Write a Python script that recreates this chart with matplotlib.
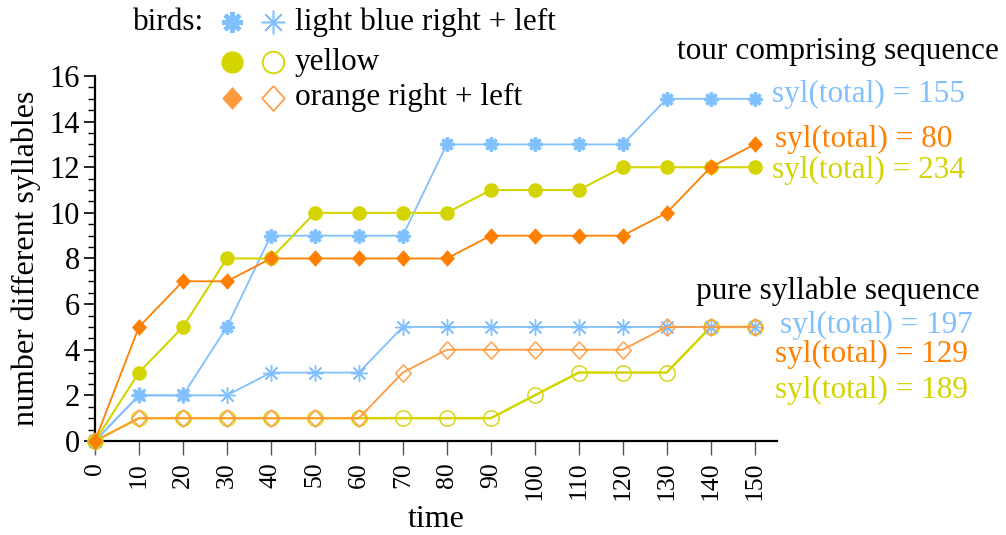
import matplotlib
matplotlib.use("Agg")
import matplotlib.pyplot as plt
from matplotlib.ticker import MultipleLocator

plt.rcParams['font.family'] = ['Liberation Serif', 'DejaVu Serif']

time = [0, 10, 20, 30, 40, 50, 60, 70, 80, 90, 100, 110, 120, 130, 140, 150]

# tour comprising sequence
blue_tour = [0, 2, 2, 5, 9, 9, 9, 9, 13, 13, 13, 13, 13, 15, 15, 15]
yellow_tour = [0, 3, 5, 8, 8, 10, 10, 10, 10, 11, 11, 11, 12, 12, 12, 12]
orange_tour = [0, 5, 7, 7, 8, 8, 8, 8, 8, 9, 9, 9, 9, 10, 12, 13]

# pure syllable sequence
blue_pure = [0, 2, 2, 2, 3, 3, 3, 5, 5, 5, 5, 5, 5, 5, 5, 5]
orange_pure = [0, 1, 1, 1, 1, 1, 1, 3, 4, 4, 4, 4, 4, 5, 5, 5]
yellow_pure = [0, 1, 1, 1, 1, 1, 1, 1, 1, 1, 2, 3, 3, 3, 5, 5]

tour_labels = ["syl(total) = 155", "syl(total) = 80", "syl(total) = 234"]
pure_labels = ["syl(total) = 197", "syl(total) = 129", "syl(total) = 189"]

BLUE = "#80c0ff"
YELLOW = "#d4d400"
ORANGE = "#ff7f00"
ORANGE_L = "#ff9a40"

asterisk = (8, 2, 0)
diamond = [(0, 1), (0.9, 0), (0, -1), (-0.9, 0), (0, 1)]

fig = plt.figure(figsize=(10.06, 5.35), dpi=100)
ax = fig.add_axes([0.0944, 0.1757, 0.6776, 0.6823])
FS = 22.5

# pure ones first
ax.plot(time, blue_pure, color=BLUE, lw=1.3, marker=asterisk, ms=12, mew=1.0, clip_on=False, zorder=3)
ax.plot(time, orange_pure, color=ORANGE_L, lw=1.3, marker=diamond, ms=12.5, mfc="none", mec=ORANGE_L,
        mew=1.0, clip_on=False, zorder=3)
ax.plot(time, yellow_pure, color=YELLOW, lw=1.8, marker="o", ms=11, mfc="none", mec=YELLOW,
        mew=1.0, clip_on=False, zorder=2)
# tour ones
ax.plot(time, blue_tour, color=BLUE, lw=1.3, marker=asterisk, ms=10, mew=2.4, clip_on=False, zorder=4)
ax.plot(time, yellow_tour, color=YELLOW, lw=1.5, marker="o", ms=10.5, mew=0, clip_on=False, zorder=4)
ax.plot(time, orange_tour, color=ORANGE, lw=1.3, marker=diamond, ms=12, mew=0, clip_on=False, zorder=4)

ax.set_xlim(0, 155)
ax.set_ylim(0, 16)
for s in ["top", "right"]:
    ax.spines[s].set_visible(False)
ax.spines["left"].set_linewidth(1.6)
ax.spines["bottom"].set_linewidth(1.6)
ax.set_xticks(time)
ax.set_xticklabels([str(t) for t in time], rotation=90, fontsize=18.5)
ax.yaxis.set_major_locator(MultipleLocator(2))
ax.yaxis.set_minor_locator(MultipleLocator(0.5))
ax.tick_params(axis="y", which="major", length=8, width=1.2, labelsize=22, pad=3)
ax.tick_params(axis="y", which="minor", length=5, width=1.0)
ax.tick_params(axis="x", length=10, width=1.0, color="#555555", pad=5)
ax.set_xlabel("time", fontsize=23, labelpad=3)
ax.set_ylabel("number different syllables", fontsize=23, labelpad=6)

# legend drawn by hand
fig.text(0.132, 0.958, "birds:", fontsize=FS, va="center")
legend_rows = [
    (0.958, dict(color=BLUE, marker=asterisk, ms=15, mew=3.2),
     dict(color=BLUE, marker=asterisk, ms=17, mew=1.1), "light blue right + left"),
    (0.884, dict(color=YELLOW, marker="o", ms=16, mew=0),
     dict(color=YELLOW, marker="o", ms=15.5, mfc="none", mew=1.3), "yellow"),
    (0.817, dict(color=ORANGE_L, marker=diamond, ms=16.5, mew=0),
     dict(color=ORANGE_L, marker=diamond, ms=18, mfc="none", mew=1.2), "orange right + left"),
]
for y, m1, m2, name in legend_rows:
    ax.plot([0.231], [y], transform=fig.transFigure, clip_on=False, ls="none", **m1)
    ax.plot([0.271], [y], transform=fig.transFigure, clip_on=False, ls="none", **m2)
    fig.text(0.293, y, name, fontsize=FS, va="center")

# annotations on the right
fig.text(0.673, 0.903, "tour comprising sequence", fontsize=FS, va="center")
fig.text(0.767, 0.824, tour_labels[0], fontsize=FS, color=BLUE, va="center")
fig.text(0.770, 0.740, tour_labels[1], fontsize=FS, color=ORANGE, va="center")
fig.text(0.767, 0.682, tour_labels[2], fontsize=FS, color=YELLOW, va="center")
fig.text(0.692, 0.456, "pure syllable sequence", fontsize=FS, va="center")
fig.text(0.775, 0.392, pure_labels[0], fontsize=FS, color=BLUE, va="center")
fig.text(0.770, 0.338, pure_labels[1], fontsize=FS, color=ORANGE, va="center")
fig.text(0.770, 0.271, pure_labels[2], fontsize=FS, color=YELLOW, va="center")

fig.savefig("out.png", dpi=100)
